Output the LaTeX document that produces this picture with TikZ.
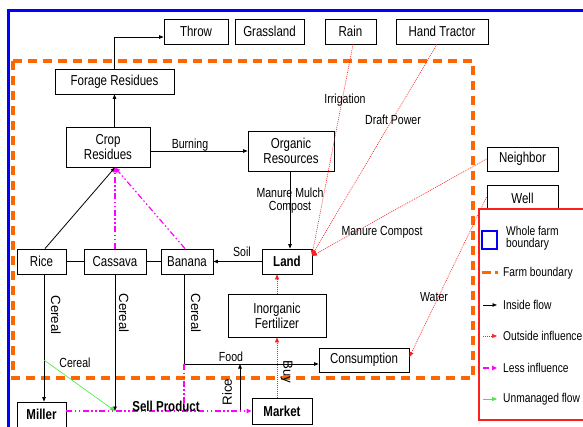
\documentclass[tikz,border=0pt]{standalone}
\usepackage{fontspec}
\setmainfont{Liberation Sans}[FakeStretch=0.8]
\newfontfamily\rotf{Liberation Sans}
\usetikzlibrary{arrows.meta,calc}
\definecolor{orng}{RGB}{255,102,0}
\definecolor{mag}{RGB}{255,0,255}
\definecolor{grn}{RGB}{60,235,60}
\definecolor{redd}{RGB}{255,30,30}
\definecolor{blu}{RGB}{0,0,255}
\tikzset{
 bx/.style={draw, line width=0.8pt, fill=white, inner sep=0pt, align=center, font=\fontsize{14.4}{15}\selectfont},
 lbl/.style={inner sep=0pt, align=center, font=\fontsize{13.2}{13}\selectfont},
 rlbl/.style={inner sep=0pt, font=\rotf\fontsize{13.3}{14}\selectfont},
 lg/.style={inner sep=0pt, anchor=west, align=left, font=\fontsize{12.8}{12.5}\selectfont},
 inflow/.style={line width=0.8pt, -{Triangle[length=4.5pt,width=3.5pt]}},
 plain/.style={line width=0.8pt},
 outinf/.style={redd, line width=0.6pt, dash pattern=on 1pt off 1pt, -{Triangle[length=5pt,width=4pt]}},
 lessinf/.style={mag, line width=1.2pt, dash pattern=on 6pt off 2.5pt on 1.5pt off 2.5pt on 1.5pt off 2.5pt},
 magtip/.style={-{Triangle[length=5pt,width=4.5pt]}},
 unm/.style={grn, line width=0.6pt, -{Triangle[length=5pt,width=4pt]}},
 farmb/.style={orng, line width=3.3pt, dash pattern=on 9pt off 6pt},
}
\begin{document}
\begin{tikzpicture}[x=1pt,y=-1pt]
\useasboundingbox (0,0) rectangle (583,427);
\clip (0,0) rectangle (583,427);
% whole farm boundary
\draw[blu, line width=3pt] (8,11) rectangle (700,700);
% farm boundary
\draw[farmb] (13,61) rectangle (473,378);

% nodes
\node[bx, minimum width=64pt, minimum height=25pt] (throw) at (196,31.5) {Throw};
\node[bx, minimum width=69pt, minimum height=25pt] (grass) at (269.5,31.5) {Grassland};
\node[bx, minimum width=51pt, minimum height=25pt] (rain) at (350.5,31.5) {Rain};
\node[bx, minimum width=92pt, minimum height=25pt] (ht) at (442,31.5) {Hand Tractor};
\node[bx, minimum width=119pt, minimum height=25pt] (forage) at (114.5,81.5) {Forage Residues};
\node[bx, minimum width=84pt, minimum height=40pt] (crop) at (108,147) {Crop\\Residues};
\node[bx, minimum width=86pt, minimum height=40pt] (org) at (291,151) {Organic\\Resources};
\node[bx, minimum width=50pt, minimum height=25pt, font=\fontsize{14.4}{15}\selectfont\bfseries] (land) at (287,261.5) {Land};
\node[bx, minimum width=52pt, minimum height=25pt] (banana) at (187,261.5) {Banana};
\node[bx, minimum width=62pt, minimum height=25pt] (cassava) at (115,261.5) {Cassava};
\node[bx, minimum width=49pt, minimum height=25pt] (rice) at (41.5,261.5) {Rice};
\node[bx, minimum width=98pt, minimum height=43pt] (inorg) at (277,315.5) {Inorganic\\Fertilizer};
\node[bx, minimum width=90pt, minimum height=24pt] (cons) at (364,360) {Consumption};
\node[bx, minimum width=60pt, minimum height=26pt, font=\fontsize{14.4}{15}\selectfont\bfseries] (market) at (282,411) {Market};
\node[bx, minimum width=49pt, minimum height=25pt, font=\fontsize{14.4}{15}\selectfont\bfseries] (miller) at (41.5,414.5) {Miller};
\node[bx, minimum width=71pt, minimum height=24pt] (neighbor) at (522.5,159) {Neighbor};
\node[bx, minimum width=71pt, minimum height=26pt] (well) at (522.5,198) {Well};

% coordinates
\coordinate (cs) at (115,167.5);
\coordinate (fd) at (184,364);
\coordinate (rc) at (240,411);
\coordinate (gs) at (44,360);
\coordinate (lp) at (312,255);

% inside flows
\draw[inflow] (crop.north -| forage.south) -- (forage.south);
\draw[inflow] (forage.north) |- ($(throw.west)+(0,5.5)$);
\draw[inflow] (crop.east |- org.west) -- (org.west);
\draw[inflow] ($(org.south)+(-1,0)$) -- ($(land.north)+(3,0)$);
\draw[inflow] (land.west) -- (banana.east);
\draw[inflow] ($(rice.north)+(3.5,0)$) -- (cs);
\draw[plain] (rice.east) -- (cassava.west);
\draw[plain] (cassava.east) -- (banana.west);
\draw[inflow] ($(rice.south)+(2.5,0)$) -- ($(miller.north)+(2.5,0)$);
\draw[inflow] (cassava.south) -- (cassava.south |- market.west);
\draw[plain] (fd |- banana.south) -- (fd);
\draw[inflow] (fd) -- (fd -| cons.west);
\draw[inflow] (rc) -- (rc |- fd);

% less influence
\draw[lessinf] (fd) -- (fd |- market.west);
\draw[lessinf, magtip] (miller.east |- market.west) -- (market.west);
\draw[lessinf, magtip] (cassava.north) -- (cs);
\draw[lessinf, magtip] ($(banana.north)+(-2,0)$) -- (cs);

% unmanaged flow
\draw[unm] (gs) -- (cassava.south |- market.west);

% outside influence
\draw[outinf] (market.north -| inorg.south) -- (inorg.south);
\draw[outinf] (inorg.north) -- (inorg.north |- land.south);
\draw[outinf] ($(rain.south)+(2.5,0)$) -- (lp);
\draw[outinf] ($(ht.south)+(-5,0)$) -- (lp);
\draw[outinf] (neighbor.west) -- ($(lp)+(0,1)$);
\draw[outinf] ($(well.west)+(0,-1)$) -- ($(cons.east)+(0,-3)$);

% labels
\node[lbl] (lburn) at (190,145) {Burning};
\node[lbl] (lmmc) at (290,201) {Manure Mulch\\Compost};
\node[lbl] (lsoil) at (242,252) {Soil};
\node[lbl] (lfood) at (231,357) {Food};
\node[lbl] (lirr) at (345,100) {Irrigation};
\node[lbl] (ldp) at (393,120) {Draft Power};
\node[lbl] (lmc) at (382,232) {Manure Compost};
\node[lbl] (lwater) at (434,297) {Water};
\node[lbl] (lcer) at (75,363) {Cereal};
\node[lbl, font=\fontsize{14.4}{15}\selectfont\bfseries] (lsell) at (166,406) {Sell Product};
\node[rlbl, rotate=-90] (lc1) at (56,315) {Cereal};
\node[rlbl, rotate=-90] (lc2) at (124,313) {Cereal};
\node[rlbl, rotate=-90] (lc3) at (196,313) {Cereal};
\node[rlbl, rotate=90] (lrice) at (227,392) {Rice};
\node[rlbl, rotate=-90] (lbuy) at (286.5,372) {Buy};

% legend
\draw[redd, line width=2.5pt, fill=white] (479,209) rectangle (620,420);
\draw[blu, line width=2.5pt] (482,231) rectangle (497,249);
\node[lg] (lg1) at (506,238) {Whole farm\\boundary};
\draw[orng, line width=3pt, dash pattern=on 9pt off 4pt] (482,273) -- (498,273);
\node[lg] (lg2) at (503,273) {Farm boundary};
\draw[inflow] (483,305) -- (497,305);
\node[lg] (lg3) at (503,305) {Inside flow};
\draw[outinf] (483,336) -- (497,336);
\node[lg] (lg4) at (503,336) {Outside influence};
\draw[lessinf, magtip] (483,368) -- (497,368);
\node[lg] (lg5) at (503,368) {Less influence};
\draw[unm] (483,399) -- (497,399);
\node[lg] (lg6) at (503,399) {Unmanaged flow};
\end{tikzpicture}
\end{document}
